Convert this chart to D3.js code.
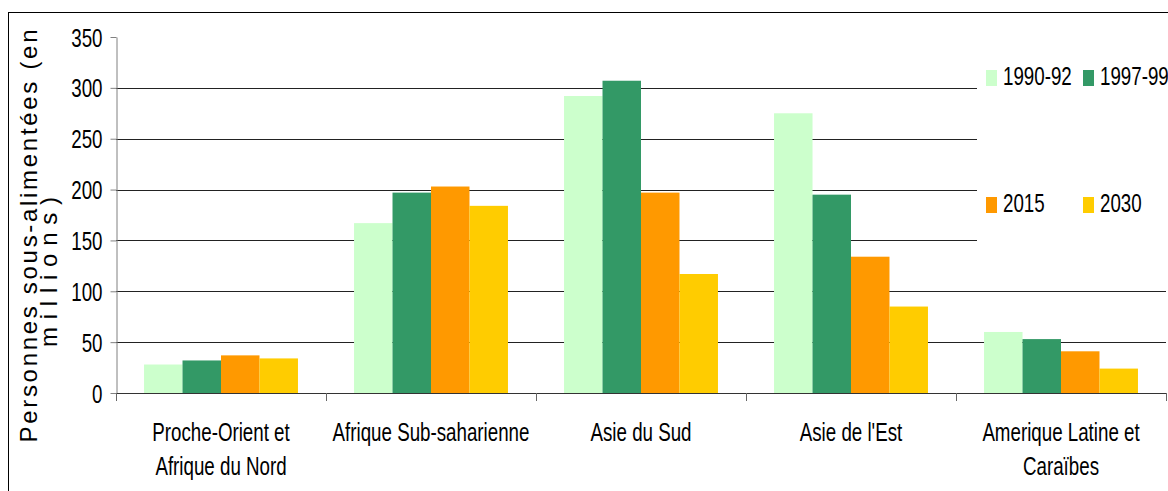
<!DOCTYPE html>
<html>
<head>
<meta charset="utf-8">
<script src="https://cdn.jsdelivr.net/npm/d3@7"></script>
<style>
  body { margin: 0; background: #fff; }
  text { font-family: "Liberation Sans", Arial, sans-serif; fill: #000; }
</style>
</head>
<body>
<div class="chart"></div>
<script>
// Data
var categories = ["Proche-Orient et|Afrique du Nord", "Afrique Sub-saharienne", "Asie du Sud", "Asie de l'Est", "Amerique Latine et|Caraïbes"];
var seriesNames = ["1990-92", "1997-99", "2015", "2030"];
var seriesColors = ["#CCFFCC", "#339966", "#FF9900", "#FFCC00"];
var v1990 = [28, 167, 292, 275, 60];
var v1997 = [32, 197, 307, 195, 53];
var v2015 = [37, 203, 197, 134, 41];
var v2030 = [34, 184, 117, 85, 24];
var yTicks = [0, 50, 100, 150, 200, 250, 300, 350];

var allValues = [v1990, v1997, v2015, v2030];

var svgWidth = 1168;
var svgHeight = 491;
var squash = 0.75; // text in the picture is horizontally condensed

var svg = d3.select(".chart")
  .append("svg")
  .attr("width", svgWidth)
  .attr("height", svgHeight);

// outer frame
svg.append("rect")
  .attr("x", 8.5).attr("y", 12.5)
  .attr("width", 1200).attr("height", 600)
  .attr("fill", "none").attr("stroke", "#000");

var plotLeft = 116, plotRight = 1166, plotTop = 37, plotBottom = 393;

var x0 = d3.scaleBand()
  .domain(categories)
  .range([plotLeft, plotRight])
  .paddingInner(0.267)
  .paddingOuter(0.1335);

var x1 = d3.scaleBand()
  .domain(seriesNames)
  .range([0, x0.bandwidth()]);

var y = d3.scaleLinear()
  .domain([0, 350])
  .range([plotBottom, plotTop]);

// gridlines
svg.append("g")
  .selectAll("line")
  .data(yTicks.filter(d => d > 0 && d < 350))
  .enter()
  .append("line")
  .attr("x1", plotLeft).attr("x2", plotRight)
  .attr("y1", d => Math.round(y(d)) + 0.5)
  .attr("y2", d => Math.round(y(d)) + 0.5)
  .attr("stroke", "#222");

// bars
var groups = svg.append("g")
  .selectAll("g")
  .data(categories)
  .enter()
  .append("g")
  .attr("transform", d => `translate(${x0(d)},0)`);

groups.selectAll("rect")
  .data((d, i) => seriesNames.map((s, j) => ({ s: s, v: allValues[j][i], c: seriesColors[j] })))
  .enter()
  .append("rect")
  .attr("x", d => x1(d.s))
  .attr("width", x1.bandwidth())
  .attr("y", d => y(d.v))
  .attr("height", d => plotBottom - y(d.v))
  .attr("fill", d => d.c);

// y axis
var leftAxis = d3.axisLeft(y).tickValues(yTicks).tickSize(6).tickSizeOuter(0);
var yAxisG = svg.append("g")
  .attr("transform", `translate(${plotLeft + 0.5},0)`)
  .call(leftAxis);
yAxisG.select(".domain").attr("stroke", "#808080");
yAxisG.selectAll("line").attr("stroke", "#808080");
yAxisG.selectAll("text")
  .attr("font-size", 25)
  .attr("font-family", "Liberation Sans, Arial, sans-serif")
  .attr("x", -14 / squash)
  .attr("dy", "0.36em")
  .attr("transform", `scale(${squash},1)`);

// x axis
var xAxisG = svg.append("g");
xAxisG.append("line")
  .attr("x1", plotLeft).attr("x2", plotRight)
  .attr("y1", plotBottom + 0.5).attr("y2", plotBottom + 0.5)
  .attr("stroke", "#333");
xAxisG.selectAll(".tk")
  .data(d3.range(categories.length + 1))
  .enter()
  .append("line")
  .attr("class", "tk")
  .attr("x1", i => Math.round(plotLeft + i * x0.step()) + 0.5)
  .attr("x2", i => Math.round(plotLeft + i * x0.step()) + 0.5)
  .attr("y1", plotBottom).attr("y2", plotBottom + 8)
  .attr("stroke", "#666");

// category labels
var catLabels = svg.append("g")
  .selectAll("text")
  .data(categories)
  .enter()
  .append("text")
  .attr("transform", d => `translate(${x0(d) + x0.bandwidth() / 2},441) scale(${squash},1)`)
  .attr("text-anchor", "middle")
  .attr("font-size", 25);
catLabels.selectAll("tspan")
  .data(d => d.split("|"))
  .enter()
  .append("tspan")
  .attr("x", 0)
  .attr("y", (d, i) => i * 34)
  .text(d => d);

// y axis title
svg.append("text")
  .attr("transform", "translate(37,236) rotate(-90)")
  .attr("text-anchor", "middle")
  .attr("font-size", 24)
  .attr("textLength", 413)
  .attr("lengthAdjust", "spacing")
  .text("Personnes sous-alimentées (en");
svg.append("text")
  .attr("transform", "translate(57,272) rotate(-90)")
  .attr("text-anchor", "middle")
  .attr("font-size", 24)
  .attr("textLength", 150)
  .attr("lengthAdjust", "spacing")
  .text("millions)");

// legend
var legend = svg.append("g");
legend.append("rect")
  .attr("x", 977).attr("y", 45)
  .attr("width", 200).attr("height", 215)
  .attr("fill", "#fff");
var legendPos = [[986, 70], [1083, 70], [986, 197], [1083, 197]];
var items = legend.selectAll("g")
  .data(seriesNames)
  .enter()
  .append("g")
  .attr("transform", (d, i) => `translate(${legendPos[i][0]},${legendPos[i][1]})`);
items.append("rect")
  .attr("width", 11).attr("height", 16)
  .attr("fill", (d, i) => seriesColors[i]);
items.append("text")
  .attr("transform", `translate(17,15) scale(${squash},1)`)
  .attr("font-size", 25)
  .text(d => d);
</script>
</body>
</html>
